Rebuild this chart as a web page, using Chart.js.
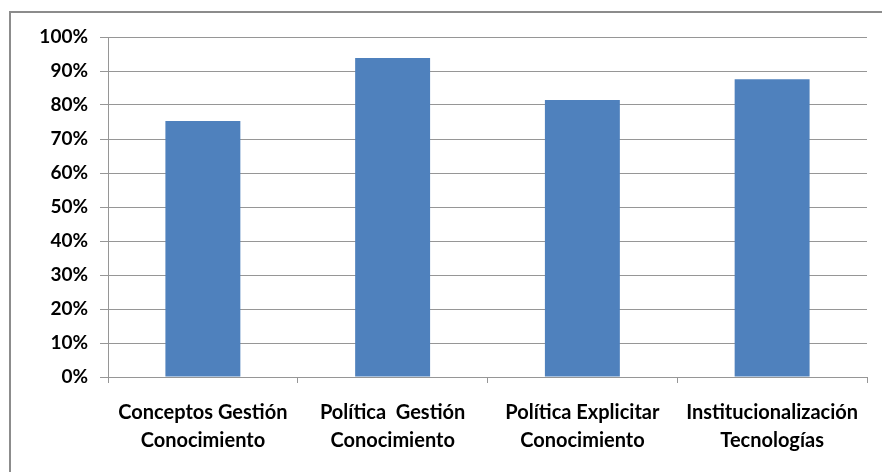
<!DOCTYPE html>
<html>
<head>
<meta charset="utf-8">
<script src="https://cdn.jsdelivr.net/npm/chart.js@4/dist/chart.umd.min.js"></script>
<style>
  html, body { margin: 0; padding: 0; background: #fff; }
  #wrap { position: relative; width: 882px; height: 472px; }
</style>
</head>
<body>
<div id="wrap"><canvas id="barChart" width="882" height="472"></canvas></div>
<script>
// Categorías y valores (porcentajes)
const categorias = [
    ['Conceptos Gestión', 'Conocimiento'],
    ['Política  Gestión', 'Conocimiento'],
    ['Política Explicitar', 'Conocimiento'],
    ['Institucionalización', 'Tecnologías']
];
const valores = [75.3, 93.8, 81.5, 87.6];
const ticksY = [0, 10, 20, 30, 40, 50, 60, 70, 80, 90, 100];

// Marco gris arriba y a la izquierda
const marco = {
    id: 'marco',
    beforeDraw(chart) {
        const ctx = chart.ctx;
        ctx.save();
        ctx.strokeStyle = '#8c8c8c';
        ctx.lineWidth = 2;
        ctx.beginPath();
        ctx.moveTo(10, 472);
        ctx.lineTo(10, 12);
        ctx.lineTo(882, 12);
        ctx.stroke();
        ctx.restore();
    }
};

const ctx = document.getElementById('barChart').getContext('2d');
const barChart = new Chart(ctx, {
    type: 'bar',
    data: {
        labels: categorias,
        datasets: [{
            data: valores,
            backgroundColor: '#4F81BD',
            borderColor: '#4F81BD',
            borderWidth: 0,
            categoryPercentage: 1,
            barPercentage: 0.395
        }]
    },
    options: {
        responsive: false,
        animation: false,
        layout: { padding: { left: 0, right: 15, top: 37, bottom: 0 } },
        plugins: {
            legend: { display: false },
            tooltip: { enabled: false }
        },
        scales: {
            y: {
                min: 0,
                max: 100,
                afterFit(scale) { scale.width = 108; },
                afterBuildTicks(scale) { scale.ticks = ticksY.map(v => ({ value: v })); },
                ticks: {
                    color: '#000',
                    padding: 12,
                    callback: v => v + '%',
                    font: { family: 'Lato', weight: 'bold', size: 19 }
                },
                grid: { color: '#969696', lineWidth: 1, tickLength: 8 },
                border: { color: '#969696' }
            },
            x: {
                afterFit(scale) { scale.height = 95; },
                ticks: {
                    color: '#000',
                    padding: 16,
                    maxRotation: 0,
                    font: { family: 'Lato', weight: 'bold', size: 20, lineHeight: 1.4 }
                },
                grid: { drawOnChartArea: false, offset: true, tickLength: 6, color: '#969696' },
                border: { color: '#969696' }
            }
        }
    },
    plugins: [marco]
});
</script>
</body>
</html>
